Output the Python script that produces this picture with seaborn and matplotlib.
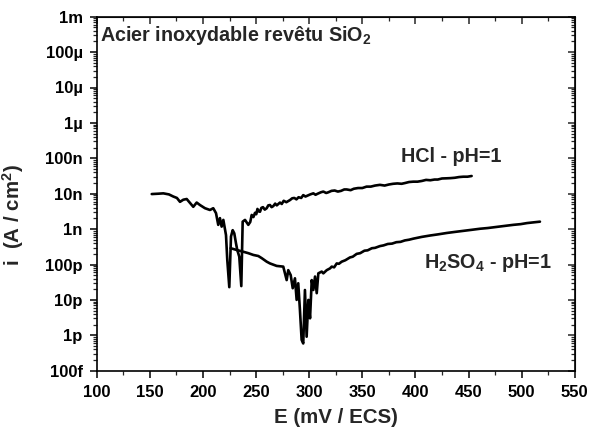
import numpy as np
import pandas as pd
import matplotlib
matplotlib.use("Agg")
import matplotlib.pyplot as plt
from matplotlib.ticker import FixedLocator, FixedFormatter, MultipleLocator, LogLocator, NullFormatter
import seaborn as sns

# ---- data (E in mV/ECS, log10 of current density in A/cm2) ----
hcl_E = [151.8, 158.0, 162.7, 168.0, 172.1, 175.5, 178.4, 181.5, 184.7, 187.8,
         190.9, 194.1, 197.2, 201.9, 206.6, 209.7, 212.3, 214.4, 216.0, 217.6,
         219.2, 221.7, 222.9, 224.8, 226.4, 228.0, 229.5, 231.1, 232.3, 234.2,
         236.1, 237.4, 239.6, 242.7, 244.5, 245.9, 247.5, 249.0, 250.2, 251.3,
         252.5, 253.7, 255.0, 256.5, 258.2, 260.0, 261.5, 263.1, 264.6, 266.2,
         268.0, 269.5, 272.5, 274.2, 276.0, 278.5, 281.9, 284.0, 286.0, 288.0,
         290.0, 292.5, 294.4, 296.5, 298.0, 301.0, 303.9, 306.0, 308.0, 311.0,
         313.3, 316.0, 318.0, 321.0, 324.0, 327.0, 330.0, 333.0, 335.3, 339.0,
         342.0, 346.0, 350.0, 354.0, 358.0, 362.0, 366.6, 371.0, 375.0, 379.0,
         383.0, 387.0, 390.0, 394.0, 398.0, 402.0, 406.0, 410.0, 414.0, 418.0,
         421.0, 425.0, 429.4, 433.0, 437.0, 441.0, 445.0, 449.0, 452.9]
hcl_logi = [-8.01, -8.00, -7.99, -8.02, -8.08, -8.12, -8.23, -8.17, -8.15, -8.26,
            -8.37, -8.25, -8.32, -8.41, -8.46, -8.41, -8.55, -8.88, -8.69, -8.93,
            -8.74, -9.17, -9.87, -10.64, -9.21, -9.03, -9.12, -9.40, -9.59, -9.78,
            -10.61, -8.79, -8.74, -8.88, -8.80, -8.60, -8.66, -8.54, -8.58, -8.43,
            -8.50, -8.51, -8.40, -8.38, -8.45, -8.41, -8.33, -8.32, -8.38, -8.35,
            -8.28, -8.33, -8.25, -8.29, -8.20, -8.24, -8.18, -8.13, -8.12, -8.16,
            -8.10, -8.12, -8.04, -8.08, -8.06, -8.02, -7.99, -8.03, -8.00, -7.96,
            -7.94, -7.98, -7.96, -7.92, -7.91, -7.94, -7.92, -7.88, -7.88, -7.90,
            -7.86, -7.84, -7.84, -7.80, -7.80, -7.77, -7.75, -7.77, -7.74, -7.72,
            -7.71, -7.72, -7.70, -7.67, -7.66, -7.66, -7.64, -7.61, -7.62, -7.60,
            -7.60, -7.57, -7.565, -7.56, -7.55, -7.53, -7.52, -7.52, -7.50]

h2so4_E = [226.1, 231.8, 238.0, 242.7, 247.4, 252.1, 255.3, 260.0, 263.1, 269.4,
           275.6, 278.8, 280.3, 282.6, 284.5, 286.6, 288.2, 289.7, 291.3, 292.9,
           294.4, 296.0, 297.6, 299.2, 300.8, 302.4, 303.9, 305.5, 307.1, 308.6,
           311.8, 313.3, 316.5, 319.6, 321.2, 323.5, 325.9, 328.0, 330.6, 334.0,
           338.4, 341.0, 344.7, 348.0, 352.0, 355.0, 359.0, 362.0, 366.6, 370.0,
           374.0, 378.0, 382.0, 386.0, 390.0, 394.0, 398.0, 406.0, 414.0, 421.0,
           429.4, 437.0, 445.0, 453.0, 460.8, 468.0, 476.0, 484.0, 492.1, 499.0,
           505.0, 511.0, 517.2]
h2so4_logi = [-9.54, -9.59, -9.64, -9.68, -9.73, -9.76, -9.82, -9.92, -9.97, -10.04,
              -10.06, -10.44, -10.16, -10.30, -10.67, -10.39, -11.00, -10.53, -11.29, -12.13,
              -12.23, -10.72, -12.04, -11.00, -11.52, -10.44, -10.72, -10.34, -10.81, -10.25,
              -10.20, -10.25, -10.16, -10.11, -10.06, -10.08, -9.97, -9.98, -9.92, -9.88,
              -9.80, -9.78, -9.70, -9.68, -9.61, -9.60, -9.54, -9.53, -9.48, -9.46,
              -9.42, -9.41, -9.37, -9.36, -9.32, -9.30, -9.27, -9.22, -9.18, -9.15,
              -9.11, -9.08, -9.05, -9.02, -8.99, -8.97, -8.94, -8.91, -8.88, -8.86,
              -8.83, -8.81, -8.79]

y_tick_vals = [1e-3, 1e-4, 1e-5, 1e-6, 1e-7, 1e-8, 1e-9, 1e-10, 1e-11, 1e-12, 1e-13]
y_tick_labels = ["1m", "100µ", "10µ", "1µ", "100n", "10n", "1n", "100p", "10p", "1p", "100f"]
x_ticks = [100, 150, 200, 250, 300, 350, 400, 450, 500, 550]

sns.set_style("ticks")
plt.rcParams['font.family'] = ['Liberation Sans', 'DejaVu Sans']
plt.rcParams['font.weight'] = 'bold'
plt.rcParams['mathtext.fontset'] = 'custom'
plt.rcParams['mathtext.rm'] = 'Liberation Sans:bold'
plt.rcParams['mathtext.bf'] = 'Liberation Sans:bold'
plt.rcParams['mathtext.default'] = 'bf'

df = pd.concat([
    pd.DataFrame({"E": hcl_E, "i": 10.0 ** np.array(hcl_logi), "s": "HCl"}),
    pd.DataFrame({"E": h2so4_E, "i": 10.0 ** np.array(h2so4_logi), "s": "H2SO4"}),
], ignore_index=True)

fig = plt.figure(figsize=(5.89, 4.30), dpi=100)
ax = fig.add_axes([96.7 / 589, 1 - 370.7 / 430, (574.8 - 96.7) / 589, (370.7 - 16.7) / 430])

sns.lineplot(data=df, x="E", y="i", units="s", estimator=None, sort=False,
             color="black", linewidth=1.9, ax=ax, legend=False)

ax.set_yscale("log")
ax.set_xlim(100, 550)
ax.set_ylim(1e-13, 1e-3)
ax.xaxis.set_major_locator(FixedLocator(x_ticks))
ax.xaxis.set_minor_locator(MultipleLocator(25))
ax.yaxis.set_major_locator(FixedLocator(y_tick_vals))
ax.yaxis.set_major_formatter(FixedFormatter(y_tick_labels))
ax.yaxis.set_minor_locator(LogLocator(base=10, subs=np.arange(2, 10), numticks=20))
ax.yaxis.set_minor_formatter(NullFormatter())

for sp in ax.spines.values():
    sp.set_linewidth(1.2)
    sp.set_color("black")

ax.tick_params(which="major", direction="out", length=5, width=1.1, labelsize=12,
               colors="black")
ax.tick_params(which="minor", direction="out", length=3, width=0.9)
ax.tick_params(axis="x", which="major", pad=5)
ax.tick_params(axis="y", which="major", pad=5)

# mirrored ticks, inward, on top and right
secx = ax.secondary_xaxis("top")
secx.xaxis.set_major_locator(FixedLocator(x_ticks))
secx.xaxis.set_minor_locator(MultipleLocator(25))
secx.tick_params(which="major", direction="in", length=5, width=1.1, labeltop=False)
secx.tick_params(which="minor", direction="in", length=3, width=0.9)
secy = ax.secondary_yaxis("right")
secy.yaxis.set_major_locator(FixedLocator(y_tick_vals))
secy.yaxis.set_minor_locator(LogLocator(base=10, subs=np.arange(2, 10), numticks=20))
secy.yaxis.set_minor_formatter(NullFormatter())
secy.tick_params(which="major", direction="in", length=5, width=1.1, labelright=False)
secy.tick_params(which="minor", direction="in", length=3, width=0.9)

ax.set_xlabel("E (mV / ECS)", fontsize=14.8, fontweight="bold", labelpad=6)
ax.set_ylabel("i  (A / cm$^2$)", fontsize=14.8, fontweight="bold")
ax.yaxis.set_label_coords(-0.148, 0.44)

ax.text(0.006, 0.948, "Acier inoxydable revêtu SiO$_2$", transform=ax.transAxes,
        fontsize=14.2, fontweight="bold", ha="left", va="center")
ax.text(434.1, 10 ** -6.95, "HCl - pH=1", fontsize=14.2, fontweight="bold",
        ha="center", va="center")
ax.text(468.5, 10 ** -9.95, "H$_2$SO$_4$ - pH=1", fontsize=14.2, fontweight="bold",
        ha="center", va="center")

fig.savefig("out.png", dpi=100)
